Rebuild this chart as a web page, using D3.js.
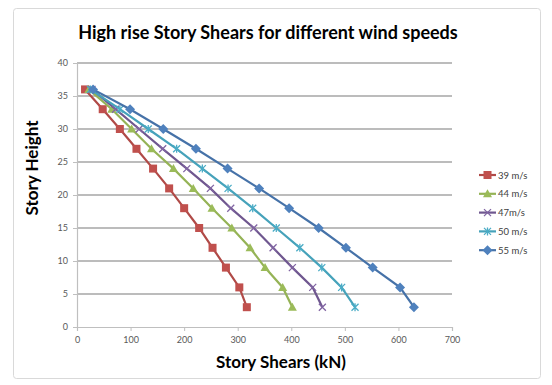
<!DOCTYPE html>
<html>
<head>
<meta charset="utf-8">
<script src="https://cdn.jsdelivr.net/npm/d3@7"></script>
<style>
  body { margin: 0; background: #fff; }
  text { font-family: Lato, "Open Sans", sans-serif; }
</style>
</head>
<body>
<svg width="552" height="385"></svg>
<script>
// story heights (y) and shears per wind speed (x, kN)
var heights = [36, 33, 30, 27, 24, 21, 18, 15, 12, 9, 6, 3];
var shear39 = [15, 48, 80, 111, 142, 172, 200, 228, 253, 278, 303, 317];
var shear44 = [22, 65, 102, 139, 180, 217, 252, 289, 323, 351, 384, 402];
var shear47 = [28, 72, 116, 160, 205, 249, 287, 330, 366, 402, 440, 458];
var shear50 = [25, 80, 133, 186, 234, 282, 328, 372, 416, 457, 494, 519];
var shear55 = [30, 99, 161, 222, 281, 340, 396, 451, 502, 552, 603, 629];

var seriesNames = ["39 m/s", "44  m/s", "47m/s", "50 m/s", "55 m/s"];
var xTicks = [0, 100, 200, 300, 400, 500, 600, 700];
var yTicks = [0, 5, 10, 15, 20, 25, 30, 35, 40];

var series = [
  {name: seriesNames[0], values: shear39, color: "#C0504D", line: "#b04a47", marker: "square"},
  {name: seriesNames[1], values: shear44, color: "#9BBB59", line: "#95b356", marker: "triangle"},
  {name: seriesNames[2], values: shear47, color: "#8064A2", line: "#6f578f", marker: "x"},
  {name: seriesNames[3], values: shear50, color: "#4BACC6", line: "#46a2ba", marker: "star"},
  {name: seriesNames[4], values: shear55, color: "#4F81BD", line: "#4672a8", marker: "diamond"}
];

var svg = d3.select("svg");

// outer chart frame
svg.append("rect")
  .attr("x", 13.5).attr("y", 8.5)
  .attr("width", 527).attr("height", 370)
  .attr("rx", 3)
  .attr("fill", "#fff")
  .attr("stroke", "#d9d9d9");

var x = d3.scaleLinear().domain([0, 700]).range([77, 452]);
var y = d3.scaleLinear().domain([0, 40]).range([327, 63]);

// gridlines
svg.append("g").selectAll("line")
  .data(yTicks.filter(function(d) { return d > 0; }))
  .enter().append("line")
  .attr("x1", x(0)).attr("x2", x(700))
  .attr("y1", function(d) { return y(d); })
  .attr("y2", function(d) { return y(d); })
  .attr("stroke", "#a6a6a6")
  .attr("stroke-width", 1.5);

// axes
var xAxis = svg.append("g")
  .attr("transform", "translate(0," + y(0) + ")")
  .call(d3.axisBottom(x).tickValues(xTicks).tickSize(4).tickPadding(6));
var yAxis = svg.append("g")
  .attr("transform", "translate(" + x(0) + ",0)")
  .call(d3.axisLeft(y).tickValues(yTicks).tickSize(4).tickPadding(5));

[xAxis, yAxis].forEach(function(a) {
  a.select(".domain").attr("stroke", "#bfbfbf").attr("stroke-width", 1.2);
  a.selectAll(".tick line").attr("stroke", "#bfbfbf");
  a.selectAll(".tick text")
    .attr("fill", "#595959")
    .style("font-size", "9px")
    .style("font-family", "Lato, sans-serif");
});

// lines
var line = d3.line()
  .x(function(d) { return x(d[0]); })
  .y(function(d) { return y(d[1]); });

function drawMarker(g, type, color, cx, cy) {
  if (type == "square") {
    g.append("rect").attr("x", cx - 4).attr("y", cy - 4)
      .attr("width", 8).attr("height", 8).attr("fill", color);
  } else if (type == "triangle") {
    g.append("path").attr("d", "M" + cx + "," + (cy - 4.5) + "L" + (cx + 4.5) + "," + (cy + 3.5) + "L" + (cx - 4.5) + "," + (cy + 3.5) + "Z")
      .attr("fill", color);
  } else if (type == "diamond") {
    g.append("path").attr("d", "M" + cx + "," + (cy - 5) + "L" + (cx + 5) + "," + cy + "L" + cx + "," + (cy + 5) + "L" + (cx - 5) + "," + cy + "Z")
      .attr("fill", color);
  } else if (type == "x" || type == "star") {
    var p = "M" + (cx - 3.5) + "," + (cy - 3.5) + "L" + (cx + 3.5) + "," + (cy + 3.5) +
            "M" + (cx - 3.5) + "," + (cy + 3.5) + "L" + (cx + 3.5) + "," + (cy - 3.5);
    if (type == "star") p += "M" + cx + "," + (cy - 4) + "L" + cx + "," + (cy + 4);
    g.append("path").attr("d", p).attr("stroke", color).attr("stroke-width", 1.3).attr("fill", "none");
  }
}

series.forEach(function(s) {
  var pts = s.values.map(function(v, i) { return [v, heights[i]]; });
  var g = svg.append("g");
  g.append("path")
    .attr("d", line(pts))
    .attr("fill", "none")
    .attr("stroke", s.line)
    .attr("stroke-width", 2.2);
  pts.forEach(function(p) { drawMarker(g, s.marker, s.color, x(p[0]), y(p[1])); });
});

// legend
var legend = svg.append("g");
series.forEach(function(s, i) {
  var ly = 175 + i * 18.8;
  legend.append("line")
    .attr("x1", 479).attr("x2", 496)
    .attr("y1", ly).attr("y2", ly)
    .attr("stroke", s.line).attr("stroke-width", 2.2);
  drawMarker(legend, s.marker, s.color, 487.5, ly);
  legend.append("text")
    .attr("x", 498).attr("y", ly + 3.5)
    .attr("fill", "#404040")
    .style("font-size", "9.5px")
    .text(s.name);
});

// titles
svg.append("text")
  .attr("x", 268).attr("y", 39)
  .attr("text-anchor", "middle")
  .style("font-size", "18px").style("font-weight", "bold")
  .attr("fill", "#000")
  .text("High rise Story Shears for different wind speeds");

svg.append("text")
  .attr("x", 281).attr("y", 368)
  .attr("text-anchor", "middle")
  .style("font-size", "17px").style("font-weight", "bold")
  .attr("fill", "#000")
  .text("Story Shears (kN)");

svg.append("text")
  .attr("transform", "translate(38,168) rotate(-90)")
  .attr("text-anchor", "middle")
  .style("font-size", "17px").style("font-weight", "bold")
  .attr("fill", "#000")
  .text("Story Height");
</script>
</body>
</html>
